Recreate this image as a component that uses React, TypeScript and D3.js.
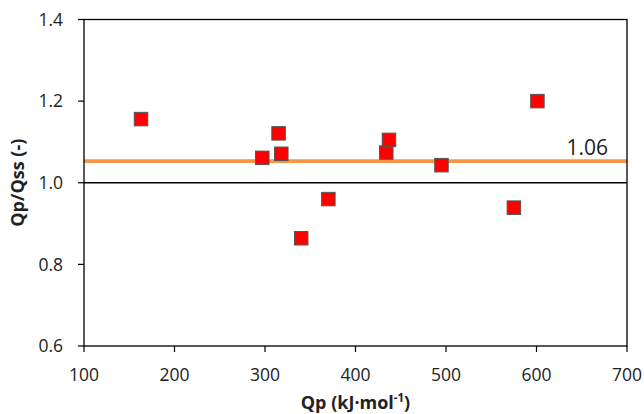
import React from "react";
import * as d3 from "d3";

const qp = [163, 297, 315, 318, 340, 370, 434, 437, 495, 575, 601];
const ratio = [1.156, 1.061, 1.121, 1.071, 0.864, 0.960, 1.074, 1.105, 1.043, 0.939, 1.2];
const xTicks = [100, 200, 300, 400, 500, 600, 700];
const yTicks = [0.6, 0.8, 1.0, 1.2, 1.4];
const meanValue = 1.053;
const meanLabel = "1.06";

const W = 644, H = 414;
const M = { left: 84, right: 17, top: 19.5, bottom: 68 };
const FONT = "'Open Sans', sans-serif";

export default function App() {
  const x = d3.scaleLinear().domain([100, 700]).range([M.left, W - M.right]);
  const y = d3.scaleLinear().domain([0.6, 1.4]).range([H - M.bottom, M.top]);
  const [x0, x1] = x.range();
  const [yb, yt] = y.range();
  const ms = 13.5;
  return (
    <svg width={W} height={H} style={{ position: "absolute", left: 0, top: 0, background: "#fff" }}>
      {/* reference line at 1.0 */}
      <line x1={x0} x2={x1} y1={y(1.0)} y2={y(1.0)} stroke="#000" strokeWidth={1.3} />
      {/* mean line */}
      <line x1={x0} x2={x1} y1={y(meanValue)} y2={y(meanValue)} stroke="#F79646" strokeWidth={3.6} />
      <text x={608} y={y(meanValue) - 6} textAnchor="end" fontFamily={FONT} fontSize={21} fill="#222">{meanLabel}</text>
      {/* frame */}
      <rect x={x0} y={yt} width={x1 - x0} height={yb - yt} fill="none" stroke="#000" strokeWidth={1.3} />
      {/* y ticks */}
      {yTicks.map((t) => (
        <g key={"y" + t}>
          <line x1={x0 - 6} x2={x0} y1={y(t)} y2={y(t)} stroke="#000" strokeWidth={1.2} />
          <text x={63} y={y(t) + 6.3} textAnchor="end" fontFamily={FONT} fontSize={17.5} fill="#222">{t.toFixed(1)}</text>
        </g>
      ))}
      {/* x ticks */}
      {xTicks.map((t) => (
        <g key={"x" + t}>
          <line x1={x(t)} x2={x(t)} y1={yb} y2={yb + 6} stroke="#000" strokeWidth={1.2} />
          <text x={x(t)} y={yb + 35} textAnchor="middle" fontFamily={FONT} fontSize={17.5} fill="#222">{t}</text>
        </g>
      ))}
      {/* points */}
      {qp.map((v, i) => (
        <rect key={"p" + i} x={x(v) - ms / 2} y={y(ratio[i]) - ms / 2} width={ms} height={ms}
          fill="#FF0000" stroke="#555" strokeWidth={1} />
      ))}
      {/* axis titles */}
      <text x={(x0 + x1) / 2} y={409} textAnchor="middle" fontFamily={FONT} fontSize={18} fontWeight="bold" fill="#222">
        Qp (kJ·mol<tspan fontSize={11.5} dy={-7}>-1</tspan><tspan dy={7}>)</tspan>
      </text>
      <text transform={`translate(24, ${(yb + yt) / 2}) rotate(-90)`} textAnchor="middle" fontFamily={FONT} fontSize={18} fontWeight="bold" fill="#222">
        Qp/Qss (-)
      </text>
    </svg>
  );
}
